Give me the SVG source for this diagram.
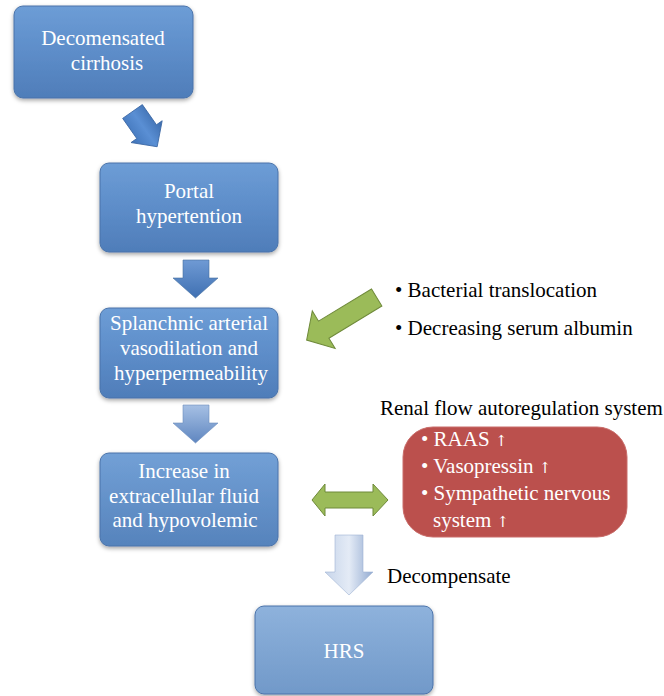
<svg xmlns="http://www.w3.org/2000/svg" width="664" height="696" viewBox="0 0 664 696" font-family="'Liberation Serif','DejaVu Serif',serif">
<style>
text{font-family:'Liberation Serif','DejaVu Serif',serif;font-size:21px}
.bt{fill:#ffffff;text-anchor:middle}
.lt{fill:#000000}
.wt{fill:#ffffff}
.up{font-family:'DejaVu Serif','Liberation Serif',serif;font-size:15px}
.box{stroke:#4a73aa;stroke-width:1}
.green{fill:#9bbb59;stroke:#6f8a3a;stroke-width:1}
</style>
<defs>
<linearGradient id="gB1" x1="0" y1="0" x2="0" y2="1"><stop offset="0" stop-color="#6d9dd6"/><stop offset="0.5" stop-color="#5d8dc9"/><stop offset="1" stop-color="#4f7db9"/></linearGradient>
<linearGradient id="gB4" x1="0" y1="0" x2="0" y2="1"><stop offset="0" stop-color="#72a0d6"/><stop offset="1" stop-color="#5683bc"/></linearGradient>
<linearGradient id="gB5" x1="0" y1="0" x2="0" y2="1"><stop offset="0" stop-color="#8eb2dc"/><stop offset="1" stop-color="#7199c9"/></linearGradient>
<linearGradient id="gA1" x1="0" y1="0" x2="1" y2="0"><stop offset="0" stop-color="#3f73b8"/><stop offset="0.5" stop-color="#5a8fd4"/><stop offset="1" stop-color="#3a6aab"/></linearGradient>
<linearGradient id="gA2" x1="0" y1="0" x2="0" y2="1"><stop offset="0" stop-color="#6f9ad4"/><stop offset="1" stop-color="#3f70b2"/></linearGradient>
<linearGradient id="gA3" x1="0" y1="0" x2="0" y2="1"><stop offset="0" stop-color="#a6c0e4"/><stop offset="1" stop-color="#5f86c0"/></linearGradient>
<linearGradient id="gA5" x1="0" y1="0" x2="1" y2="0"><stop offset="0" stop-color="#c7d5ea"/><stop offset="0.5" stop-color="#e4ebf6"/><stop offset="1" stop-color="#93abd1"/></linearGradient>
<filter id="sh" x="-10%" y="-10%" width="120%" height="130%"><feDropShadow dx="0" dy="2" stdDeviation="2" flood-color="#000" flood-opacity="0.35"/></filter>
</defs>

<g id="connectors">
<path d="M-12,0 L12,0 L12,24.6 L19,24.6 L0,43 L-19,24.6 L-12,24.6 Z" transform="translate(132.5,111.5) rotate(-35)" fill="url(#gA1)" stroke="#3a66a3" stroke-width="0.8"/>
<path d="M183,260 L209,260 L209,278 L218,278 L195.5,298 L173,278 L183,278 Z" fill="url(#gA2)" stroke="#46709f" stroke-width="0.6"/>
<path d="M183,405 L209,405 L209,423 L218,423 L195.5,443 L173,423 L183,423 Z" fill="url(#gA3)" stroke="#6c8dbd" stroke-width="0.6"/>
<path d="M335,535 L363,535 L363,572 L373,572 L349,595 L325,572 L335,572 Z" fill="url(#gA5)" stroke="#9fb3d3" stroke-width="0.6"/>
<path class="green" d="M0,-10 L62,-10 L62,-22 L82,0 L62,22 L62,10 L0,10 Z" transform="translate(376.7,297.5) rotate(148.7)"/>
<path class="green" d="M312,500 L325,484 L325,492 L373,492 L373,484 L388,500 L373,516 L373,508 L325,508 L325,516 Z"/>
</g>

<g id="node-decompensated">
<rect class="box" x="14" y="6" width="179" height="92" rx="9" fill="url(#gB1)" filter="url(#sh)"/>
<text class="bt" x="103" y="45">Decomensated</text>
<text class="bt" x="107" y="70">cirrhosis</text>
</g>

<g id="node-portal">
<rect class="box" x="100" y="163" width="178" height="89" rx="9" fill="url(#gB1)" filter="url(#sh)"/>
<text class="bt" x="189" y="198">Portal</text>
<text class="bt" x="189" y="223">hypertention</text>
</g>

<g id="node-splanchnic">
<rect class="box" x="100" y="308" width="178" height="90" rx="9" fill="url(#gB1)" filter="url(#sh)"/>
<text class="bt" x="189" y="330">Splanchnic arterial</text>
<text class="bt" x="189" y="355">vasodilation and</text>
<text class="bt" x="191" y="380">hyperpermeability</text>
</g>

<g id="node-increase">
<rect class="box" x="100" y="453" width="178" height="93" rx="9" fill="url(#gB4)" filter="url(#sh)"/>
<text class="bt" x="184" y="478">Increase in</text>
<text class="bt" x="184" y="503">extracellular fluid</text>
<text class="bt" x="185" y="527">and hypovolemic</text>
</g>

<g id="node-hrs">
<rect class="box" x="255" y="606" width="178" height="88" rx="9" fill="url(#gB5)" stroke="#7497c6" filter="url(#sh)"/>
<text class="bt" x="344" y="658">HRS</text>
</g>

<g id="node-factors">
<text class="lt" x="395" y="297">• Bacterial translocation</text>
<text class="lt" x="395" y="335">• Decreasing serum albumin</text>
</g>

<g id="node-renal">
<text class="lt" x="380" y="415">Renal flow autoregulation system</text>
<rect x="403" y="427" width="224" height="110" rx="30" fill="#bb504d" stroke="#c96d6a" stroke-width="1"/>
<text class="wt" x="421" y="446">• RAAS <tspan class="up">↑</tspan></text>
<text class="wt" x="421" y="473">• Vasopressin <tspan class="up">↑</tspan></text>
<text class="wt" x="421" y="500">• Sympathetic nervous</text>
<text class="wt" x="433" y="527">system <tspan class="up">↑</tspan></text>
</g>

<g id="label-decompensate">
<text class="lt" x="387" y="583">Decompensate</text>
</g>
</svg>
